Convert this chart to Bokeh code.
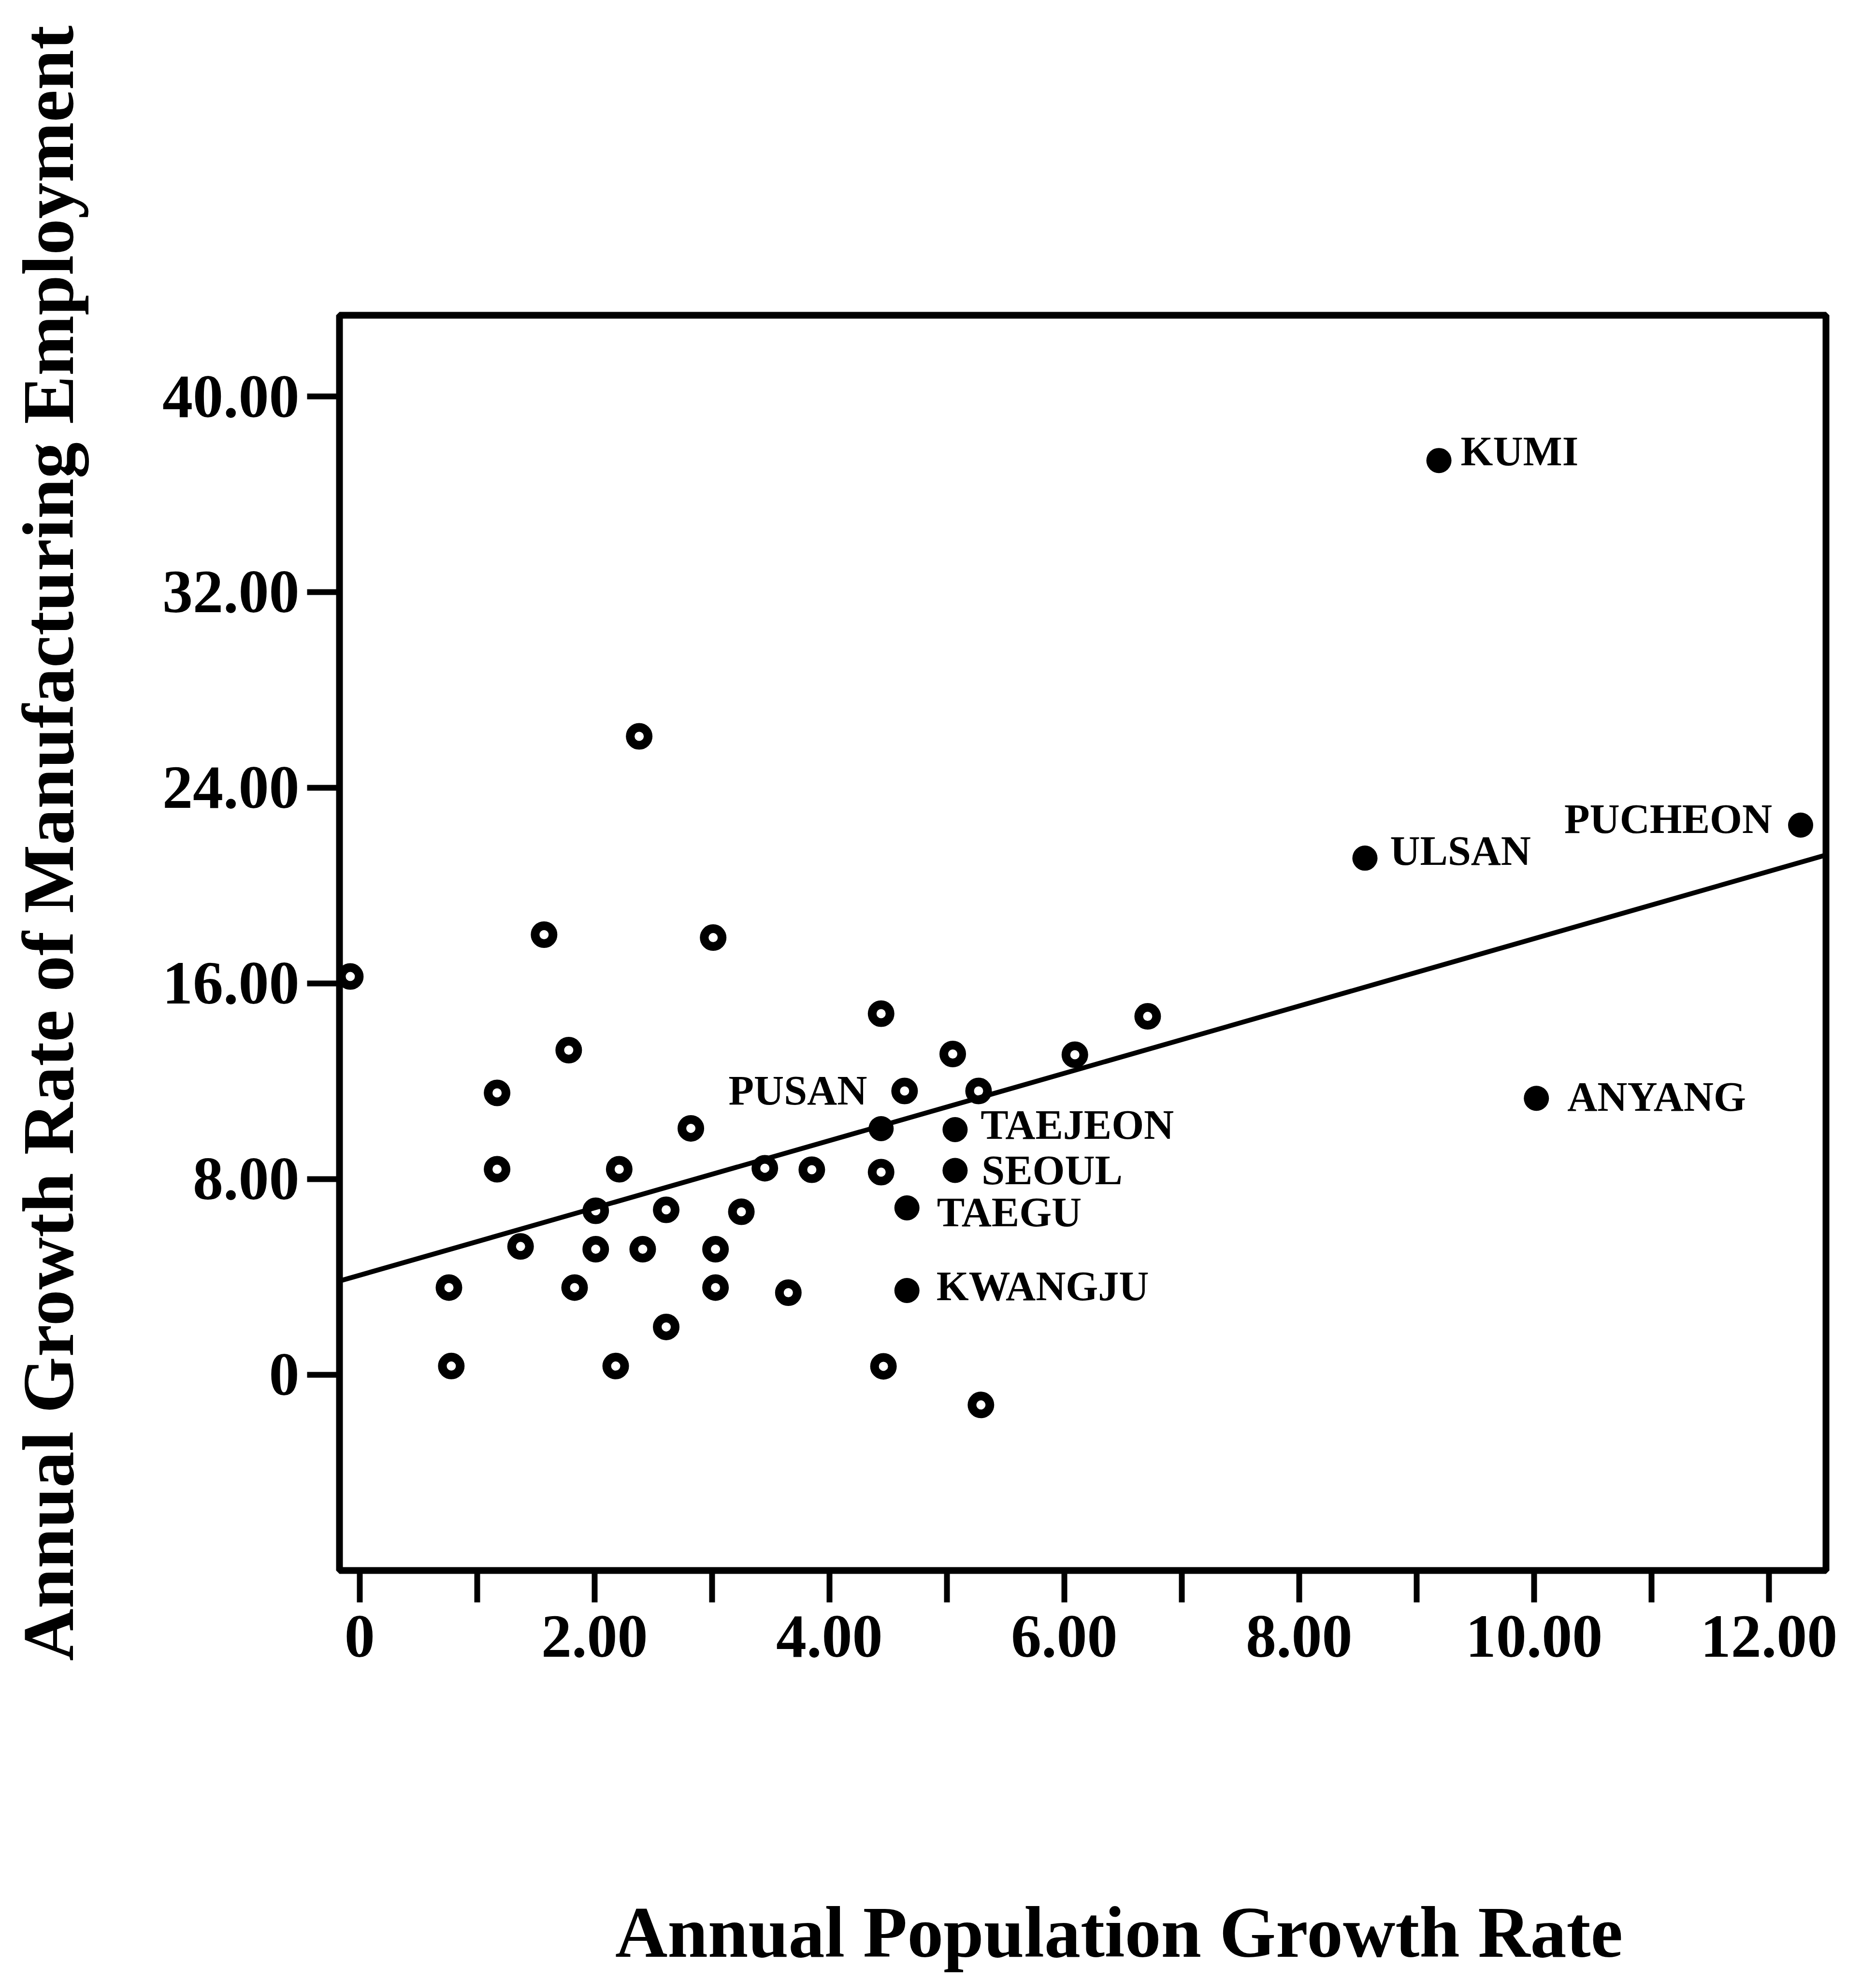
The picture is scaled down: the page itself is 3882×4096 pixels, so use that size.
from bokeh.plotting import figure
from bokeh.models import FixedTicker, Range1d, ColumnDataSource
from bokeh.core.properties import value
from bokeh.embed import file_html
from bokeh.resources import INLINE

# ---------------- data ----------------
# other cities (open circles)
open_pop_growth = [-0.08, 0.76, 0.78, 1.17, 1.17, 1.37, 1.57, 1.78, 1.83, 2.01,
                   2.01, 2.18, 2.21, 2.38, 2.41, 2.61, 2.61, 2.82, 3.01, 3.03,
                   3.03, 3.25, 3.45, 3.65, 3.85, 4.44, 4.44, 4.46, 4.64, 5.05,
                   5.27, 5.29, 6.09, 6.71]
open_mfg_growth = [16.28, 3.56, 0.35, 11.52, 8.40, 5.24, 17.99, 13.27, 3.56, 6.70,
                   5.13, 0.35, 8.40, 26.10, 5.13, 6.74, 1.95, 10.07, 17.87, 5.13,
                   3.56, 6.66, 8.44, 3.35, 8.38, 14.76, 8.28, 0.34, 11.60, 13.11,
                   11.60, -1.24, 13.08, 14.65]

# labelled cities (filled dots)
city_names = ["PUSAN", "TAEJEON", "SEOUL", "TAEGU", "KWANGJU",
              "KUMI", "ULSAN", "PUCHEON", "ANYANG"]
city_pop_growth = [4.44, 5.07, 5.07, 4.66, 4.66, 9.19, 8.56, 12.27, 10.02]
city_mfg_growth = [10.06, 10.02, 8.35, 6.82, 3.44, 37.38, 21.12, 22.47, 11.30]

# fitted regression line (end points)
fit_x = [-0.17, 12.48]
fit_y = [3.83, 21.24]

# axes
x_major_ticks = [0, 2, 4, 6, 8, 10, 12]
x_minor_ticks = [1, 3, 5, 7, 9, 11]
x_tick_labels = ["0", "2.00", "4.00", "6.00", "8.00", "10.00", "12.00"]
y_major_ticks = [0, 8, 16, 24, 32, 40]
y_tick_labels = ["0", "8.00", "16.00", "24.00", "32.00", "40.00"]
x_title = "Annual Population Growth Rate"
y_title = "Annual Growth Rate of Manufacturing Employment"

# ---------------- styles ----------------
FONT = "Liberation Serif"
NBSP = "\u00a0"
X_TITLE_PAD = 4    # leading non-breaking spaces: shifts the centred title right
Y_TITLE_PAD = 11   # shifts the centred y title upward
label_style = {  # name: (align, x_offset px, y_offset px)
    "PUSAN": ("right", -29, -79),
    "TAEJEON": ("left", 53, -10),
    "SEOUL": ("left", 55, 0),
    "TAEGU": ("left", 62, 9),
    "KWANGJU": ("left", 61, -9),
    "KUMI": ("left", 45, -19),
    "ULSAN": ("left", 52, -15),
    "PUCHEON": ("right", -59, -13),
    "ANYANG": ("left", 64, -3),
}

W, H = 3860, 4088
FL, FR, FT, FB = 702, 3778, 652, 3250

p = figure(width=W, height=H, output_backend="svg", toolbar_location=None,
           x_range=Range1d(-0.172, 12.486), y_range=Range1d(-8.01, 43.32),
           min_border_left=FL, min_border_right=W - FR,
           min_border_top=FT, min_border_bottom=H - FB)
p.grid.visible = False
p.background_fill_color = "white"
p.border_fill_color = "white"
p.outline_line_color = "black"
p.outline_line_width = 14

for ax in (p.xaxis[0], p.yaxis[0]):
    ax.axis_line_color = None
    ax.major_tick_in = 0
    ax.major_tick_line_width = 12
    ax.major_tick_line_color = "black"
    ax.major_label_text_font = FONT
    ax.major_label_text_font_style = "bold"
    ax.major_label_text_font_size = "126px"
    ax.major_label_text_color = "black"
    ax.axis_label_text_font = FONT
    ax.axis_label_text_font_style = "bold"
    ax.axis_label_text_font_size = "150px"
    ax.axis_label_text_color = "black"

p.xaxis.ticker = FixedTicker(ticks=x_major_ticks, minor_ticks=x_minor_ticks)
p.xaxis.major_label_overrides = dict(zip(x_major_ticks, x_tick_labels))
p.xaxis.major_tick_out = 66
p.xaxis.minor_tick_out = 66
p.xaxis.minor_tick_in = 0
p.xaxis.minor_tick_line_width = 12
p.xaxis.minor_tick_line_color = "black"
p.xaxis.major_label_standoff = 28
p.xaxis.axis_label = NBSP * X_TITLE_PAD + x_title
p.xaxis.axis_label_standoff = 484

p.yaxis.ticker = FixedTicker(ticks=y_major_ticks, minor_ticks=[])
p.yaxis.major_label_overrides = dict(zip(y_major_ticks, y_tick_labels))
p.yaxis.major_tick_out = 67
p.yaxis.major_label_standoff = 16
p.yaxis.minor_tick_line_color = None
p.yaxis.axis_label = NBSP * Y_TITLE_PAD + y_title
p.yaxis.axis_label_standoff = 150

# regression line
p.line(fit_x, fit_y, line_width=10, line_color="black")

# open circles
p.scatter(open_pop_growth, open_mfg_growth, marker="circle", size=37,
          fill_color=None, line_color="black", line_width=18)

# filled dots
p.scatter(city_pop_growth, city_mfg_growth, marker="circle", size=52,
          fill_color="black", line_color=None)

# city labels
for align in ("left", "right"):
    idx = [i for i, n in enumerate(city_names) if label_style[n][0] == align]
    src = ColumnDataSource(dict(
        x=[city_pop_growth[i] for i in idx],
        y=[city_mfg_growth[i] for i in idx],
        t=[city_names[i] for i in idx],
        xo=[label_style[city_names[i]][1] for i in idx],
        yo=[label_style[city_names[i]][2] for i in idx],
    ))
    p.text(x="x", y="y", text="t", x_offset="xo", y_offset="yo", source=src,
           text_align=align, text_baseline="middle",
           text_font=value(FONT), text_font_style="bold",
           text_font_size=value("86px"), text_color="black")

open("out.html", "w").write(file_html(p, INLINE))
